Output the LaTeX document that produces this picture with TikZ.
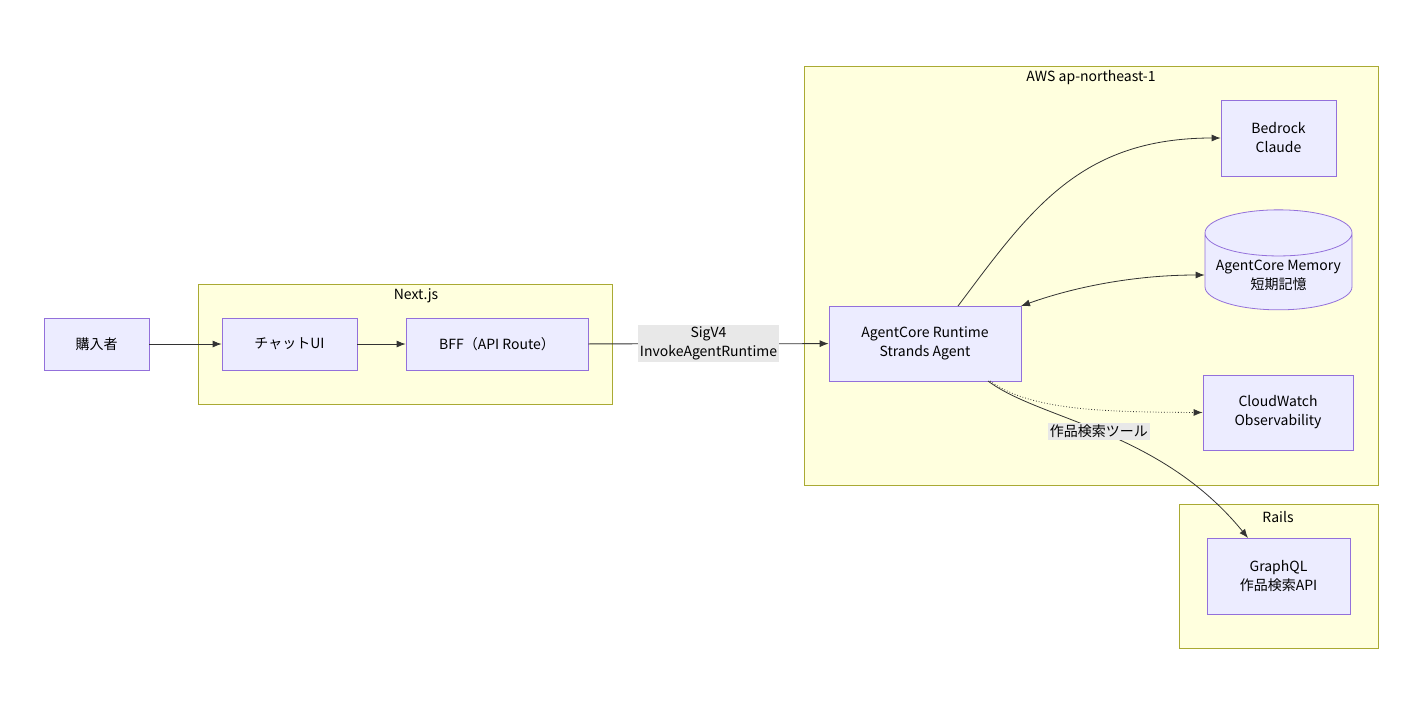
\documentclass[tikz,border=0pt]{standalone}
\usepackage{fontspec}
\setmainfont{Noto Sans CJK JP}
\usetikzlibrary{arrows.meta,shapes.geometric}
\definecolor{nodefill}{HTML}{ECECFF}
\definecolor{nodeline}{HTML}{9370DB}
\definecolor{grpfill}{HTML}{FFFFDE}
\definecolor{grpline}{HTML}{AAAA33}
\definecolor{edge}{HTML}{333333}
\definecolor{lblbg}{HTML}{E8E8E8}
\tikzset{
  grp/.style={draw=grpline, fill=grpfill, line width=0.8pt},
  box/.style={draw=nodeline, fill=nodefill, line width=0.8pt, align=center,
    font=\fontsize{14}{19}\selectfont},
  glabel/.style={font=\fontsize{14}{19}\selectfont},
  elabel/.style={fill=lblbg, align=center, inner sep=2pt, font=\fontsize{14}{19}\selectfont},
  link/.style={draw=edge, line width=0.8pt, -{Latex[length=9pt,width=7pt]}}
}
\begin{document}
\begin{tikzpicture}[x=1pt, y=-1pt]
  \useasboundingbox[fill=white] (0,0) rectangle (1425,705);
  % clusters
  \draw[grp] (198,284) rectangle (612,404);
  \node[glabel] (nextl) at (416,296) {Next.js};
  \draw[grp] (804,66) rectangle (1378,485);
  \node[glabel] (awsl) at (1091,78) {AWS ap-northeast-1};
  \draw[grp] (1179,504) rectangle (1378,648);
  \node[glabel] (railsl) at (1278,517) {Rails};
  % nodes
  \node[box, minimum width=105pt, minimum height=52pt] (buyer) at (96.5,344) {購入者};
  \node[box, minimum width=135pt, minimum height=52pt] (chat) at (289.5,344) {チャットUI};
  \node[box, minimum width=182pt, minimum height=52pt] (bff) at (497,344) {BFF（API Route）};
  \node[box, minimum width=192pt, minimum height=75pt] (runtime) at (925,343.5) {AgentCore Runtime\\Strands Agent};
  \node[box, minimum width=115pt, minimum height=76pt] (bedrock) at (1278.5,138) {Bedrock\\Claude};
  \node[box, cylinder, shape border rotate=90, aspect=0.35, minimum width=147pt,
    minimum height=100pt] (memory) at (1278.5,275) {AgentCore Memory\\短期記憶};
  \node[box, minimum width=150pt, minimum height=75pt] (cw) at (1278,412.5) {CloudWatch\\Observability};
  \node[box, minimum width=143pt, minimum height=76pt] (gql) at (1278.5,576) {GraphQL\\作品検索API};
  % edges
  \draw[link] (buyer) -- (chat);
  \draw[link] (chat) -- (bff);
  \draw[link] (bff) -- node[elabel] (sig) {SigV4\\InvokeAgentRuntime} (runtime);
  \draw[link] (958,306) .. controls (1030,210) and (1080,138) .. (bedrock.west);
  \draw[link, {Latex[length=9pt,width=7pt]}-{Latex[length=9pt,width=7pt]}]
    (1021,306) .. controls (1080,285) and (1140,275) .. (memory.west);
  \draw[link, dotted] (990,381) .. controls (1030,410) and (1100,412) .. (cw.west);
  \draw[link] (988,381) .. controls (1040,420) and (1160,430) .. node[elabel, pos=0.48] (tool) {作品検索ツール} (1248,538);
\end{tikzpicture}
\end{document}
